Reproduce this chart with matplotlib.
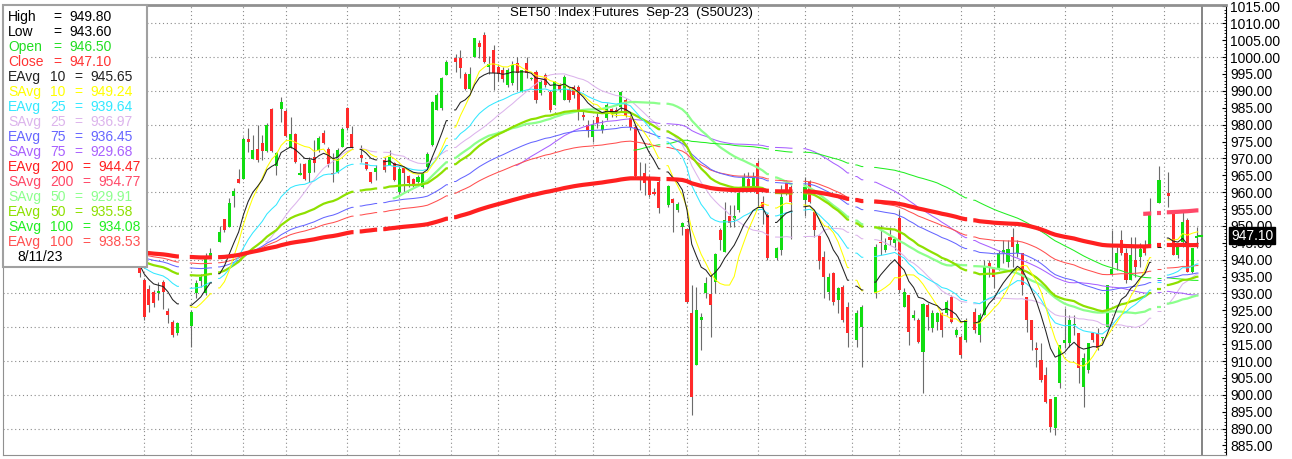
import numpy as np
import pandas as pd
import matplotlib
matplotlib.use("Agg")
import matplotlib.pyplot as plt
from matplotlib.patches import Rectangle
from matplotlib.ticker import MultipleLocator, FormatStrFormatter
import matplotlib.transforms as mtransforms

plt.rcParams['font.family'] = ['Liberation Sans', 'DejaVu Sans']

# daily bars, one slot per trading day; None = exchange holiday (empty slot)
opens = [
    941.0, 934.0, 931.2, 930.5, 930.0, 933.4, 924.9, 921.7, 918.2, None,
    None, 920.5, 930.0, 933.7, 930.0, 941.1, None, 945.3, 952.1, 949.8,
    958.9, 963.9, 963.9, 975.7, 969.8, 972.7, 974.7, 972.3, 984.5, 967.8,
    984.6, 984.1, 973.2, 977.1, 965.1, 968.4, 965.6, 970.5, 972.5, 977.6,
    972.9, 965.6, 966.1, 973.5, 985.0, 977.2, None, 971.0, 969.0, 966.1,
    965.9, None, 969.5, 968.0, 968.5, 960.1, 967.3, 964.9, 963.9, 963.1,
    961.6, 967.5, 974.0, 984.3, 984.8, 994.7, None, 999.6, 999.6, 995.0,
    990.7, 999.9, 1004.1, 1006.5, 997.2, 1002.1, 997.0, 996.2, 991.7, 992.2,
    998.4, 989.8, 998.2, 993.5, 995.7, 989.3, 994.7, 989.8, 985.8, 991.7,
    987.3, 990.3, 991.2, 991.2, 983.0, 979.9, 976.4, 982.4, 978.4, 981.9,
    984.5, 984.3, 985.1, 987.3, 981.9, 979.4, 964.5, 965.6, 964.6, 960.1,
    963.1, None, 956.2, 957.9, 954.7, 949.8, 949.0, 924.1, 908.8, 922.1,
    930.0, 929.8, 933.5, 948.8, 942.4, 952.8, 951.8, 954.7, 961.6, 963.8,
    961.6, 968.5, 957.0, 953.2, None, 940.4, 942.9, 962.6, 961.4, None,
    None, 957.7, 963.1, 954.2, 947.0, 940.9, 930.5, 936.0, 928.0, 932.0,
    926.1, None, 916.2, 920.2, None, None, 930.0, 945.3, 942.9, 946.8,
    944.9, 952.3, 926.1, 929.5, 922.6, 922.1, 912.8, 926.6, 919.7, 921.7,
    924.1, 924.1, 929.1, 917.7, 917.2, 916.2, None, 924.6, 917.7, 923.6,
    939.1, 937.4, 937.4, 941.9, 939.4, 946.6, 941.9, 941.9, 929.1, 922.1,
    913.8, 910.3, 905.9, 898.9, 890.1, 903.4, 915.2, 915.2, 920.6, 918.2,
    902.4, 907.3, 918.2, 918.2, 916.7, 920.2, 935.9, 938.9, 945.8, 941.9,
    934.0, 939.9, 940.9, 944.4, 944.4, None, 956.7, None, 959.7, 954.7,
    941.4, 945.3, 951.8, 936.5, 946.5,
]
highs = [
    943.0, 934.5, 932.5, 931.0, 933.4, 933.9, 925.6, 922.2, 921.5, None,
    None, 925.1, 933.9, 935.9, 941.9, 943.4, None, 950.1, 952.1, 958.2,
    961.1, 966.9, 976.4, 978.9, 976.8, 980.0, 976.8, 980.4, 984.8, 971.9,
    988.1, 984.6, 982.2, 977.4, 968.6, 968.6, 970.5, 975.5, 976.5, 978.4,
    973.5, 971.5, 973.0, 979.4, 985.3, 979.6, None, 974.0, 969.0, 966.1,
    968.1, None, 970.5, 972.5, 969.0, 967.6, 967.6, 965.1, 964.1, 965.1,
    966.1, 972.0, 987.0, 989.3, 994.2, 999.1, None, 1000.8, 1002.1, 995.7,
    997.2, 1005.8, 1005.1, 1007.3, 1000.3, 1003.6, 998.0, 997.0, 996.7, 998.7,
    1000.1, 996.2, 1000.1, 994.0, 996.2, 993.2, 995.2, 990.3, 992.7, 992.2,
    994.7, 991.2, 991.7, 991.7, 984.3, 981.4, 981.4, 983.4, 981.4, 986.3,
    984.8, 985.3, 990.0, 987.8, 982.9, 979.9, 969.0, 968.5, 965.1, 961.1,
    963.6, None, 962.1, 958.2, 957.2, 951.3, 949.3, 932.5, 932.0, 924.1,
    935.0, 935.5, 941.9, 949.3, 957.2, 956.2, 956.2, 960.7, 965.6, 966.0,
    966.0, 969.5, 959.0, 953.7, None, 943.9, 962.1, 963.6, 962.1, None,
    None, 964.6, 963.6, 954.7, 947.3, 942.5, 936.0, 936.5, 932.0, 932.5,
    927.6, None, 925.1, 926.6, None, None, 944.8, 950.2, 946.5, 949.8,
    946.3, 954.7, 931.5, 929.5, 925.1, 922.6, 927.1, 927.1, 925.1, 924.6,
    924.6, 928.1, 929.6, 919.7, 917.7, 922.6, None, 925.6, 924.1, 939.9,
    939.9, 937.9, 942.9, 945.8, 945.8, 949.3, 945.8, 941.9, 929.1, 922.1,
    915.7, 915.2, 908.3, 898.9, 899.4, 914.7, 925.6, 923.6, 923.6, 918.2,
    912.3, 915.2, 918.4, 919.7, 917.2, 932.5, 948.8, 943.9, 948.8, 943.4,
    946.8, 946.8, 944.9, 945.8, 958.2, None, 967.7, None, 966.1, 954.7,
    944.4, 954.7, 952.3, 943.4, 949.8,
]
lows = [
    935.0, 922.2, 924.6, 926.0, 928.0, 925.5, 921.2, 917.2, 917.7, None,
    None, 914.2, 928.6, 932.0, 929.5, 940.8, None, 945.3, 948.1, 949.8,
    955.7, 962.6, 963.9, 972.0, 969.8, 968.8, 969.5, 972.0, 972.0, 965.0,
    980.9, 976.2, 973.2, 968.5, 965.1, 963.6, 963.1, 966.1, 972.0, 974.3,
    967.5, 963.1, 965.6, 973.3, 978.4, 973.0, None, 969.0, 966.6, 962.6,
    963.6, None, 966.1, 968.0, 963.3, 959.6, 960.1, 961.6, 961.6, 962.6,
    961.1, 967.0, 973.8, 984.3, 984.3, 994.7, None, 995.7, 993.7, 990.2,
    990.2, 999.9, 999.6, 998.4, 995.0, 990.3, 993.0, 992.5, 991.2, 991.7,
    990.3, 989.8, 993.7, 993.3, 986.3, 988.8, 991.2, 983.8, 985.8, 989.8,
    987.3, 986.8, 987.8, 981.4, 981.4, 976.4, 974.9, 978.9, 977.4, 981.4,
    982.4, 982.4, 983.8, 982.4, 978.4, 964.6, 960.5, 959.2, 958.7, 959.1,
    953.7, None, 955.7, 948.3, 954.2, 947.3, 927.1, 894.0, 908.8, 913.2,
    928.6, 917.2, 930.0, 942.8, 942.4, 949.8, 949.8, 954.2, 960.6, 961.1,
    960.6, 955.5, 950.5, 939.9, None, 939.9, 941.4, 959.2, 946.0, None,
    None, 952.8, 956.7, 946.8, 937.4, 928.6, 928.1, 926.6, 924.1, 921.6,
    914.3, None, 914.3, 908.3, None, None, 928.6, 941.3, 942.4, 944.4,
    942.9, 930.0, 926.1, 914.7, 922.1, 915.2, 900.4, 919.2, 918.7, 919.2,
    917.2, 923.6, 921.2, 917.2, 910.8, 915.7, None, 918.2, 915.7, 923.6,
    935.0, 931.5, 936.9, 938.9, 937.9, 937.9, 940.9, 929.6, 918.7, 913.3,
    908.3, 903.9, 897.5, 889.0, 888.1, 901.9, 913.8, 914.2, 917.7, 903.4,
    896.5, 906.4, 915.7, 913.3, 915.2, 920.2, 935.4, 937.0, 941.4, 933.0,
    934.0, 935.0, 937.9, 941.4, 944.4, None, 956.7, None, 955.7, 941.4,
    940.4, 943.9, 936.5, 936.0, 943.6,
]
closes = [
    936.0, 923.1, 926.6, 927.1, 930.7, 930.4, 923.6, 917.7, 921.2, None,
    None, 924.6, 933.0, 934.9, 940.8, 942.1, None, 948.1, 948.8, 956.9,
    960.3, 962.6, 975.7, 975.0, 972.5, 969.5, 972.3, 980.0, 972.3, 971.7,
    986.8, 976.5, 977.1, 969.0, 965.8, 963.8, 969.5, 968.5, 976.0, 974.7,
    968.3, 965.4, 972.5, 978.8, 978.9, 973.5, None, 970.0, 966.9, 963.1,
    967.3, None, 966.6, 970.5, 963.6, 966.9, 965.6, 962.6, 962.4, 964.6,
    965.6, 971.2, 986.8, 988.8, 993.7, 998.6, None, 998.6, 996.7, 990.7,
    995.0, 1005.6, 1003.1, 998.6, 997.9, 995.2, 995.0, 993.5, 996.2, 997.7,
    995.2, 996.2, 995.2, 993.7, 987.3, 992.7, 991.7, 984.3, 992.7, 990.3,
    994.2, 987.3, 988.8, 984.3, 982.2, 978.4, 979.9, 980.4, 979.9, 985.8,
    983.5, 983.8, 989.8, 982.6, 979.4, 964.8, 963.5, 962.6, 959.2, 959.6,
    955.2, None, 961.8, 956.7, 956.5, 950.8, 927.6, 899.4, 925.1, 923.1,
    933.0, 926.6, 941.7, 945.8, 951.8, 950.8, 953.0, 959.7, 964.6, 961.6,
    964.6, 959.5, 955.5, 940.4, None, 943.4, 958.7, 959.7, 957.2, None,
    None, 961.6, 957.2, 948.8, 939.5, 935.0, 935.0, 927.6, 931.5, 922.1,
    918.2, None, 924.1, 926.1, None, None, 943.8, 944.9, 944.4, 945.8,
    946.0, 931.0, 930.5, 918.7, 923.6, 915.7, 926.9, 923.1, 924.1, 924.1,
    919.2, 927.6, 921.7, 919.2, 911.8, 922.1, None, 919.2, 923.6, 937.9,
    937.9, 935.0, 941.9, 942.9, 943.1, 943.9, 944.8, 932.5, 922.1, 916.2,
    913.3, 904.4, 898.0, 890.6, 899.4, 914.7, 916.2, 922.1, 921.1, 907.8,
    910.8, 915.2, 916.2, 913.8, 917.2, 932.5, 937.4, 941.9, 941.9, 934.0,
    941.4, 937.9, 943.1, 941.9, 954.2, None, 963.6, None, 958.9, 941.4,
    943.9, 951.3, 936.5, 943.4, 947.1,
]

# EMA values at the first bar (history that is not on the chart)
ema_seed = {10: 938.6, 25: 938.8, 50: 940.0, 75: 941.0, 100: 941.8, 200: 942.3}

# slots of the dotted vertical grid lines (1st / mid of each month)
vgrid_slots = [1, 11, 22, 31, 44, 55, 66, 76, 88, 96, 108, 116, 131, 141,
               151, 161, 174, 181, 196, 206, 217]

# legend panel text
quote_labels = ['High', 'Low', 'Open', 'Close']
quote_values = ['949.80', '943.60', '946.50', '947.10']
ma_kinds = ['EAvg', 'SAvg', 'EAvg', 'SAvg', 'EAvg', 'SAvg', 'EAvg', 'SAvg',
            'SAvg', 'EAvg', 'SAvg', 'EAvg']
ma_periods = [10, 10, 25, 25, 75, 75, 200, 200, 50, 50, 100, 100]
ma_values = ['945.65', '949.24', '939.64', '936.97', '936.45', '929.68',
             '944.47', '954.77', '929.91', '935.58', '934.08', '938.53']
last_date = '8/11/23'
title = 'SET50  Index Futures  Sep-23  (S50U23)'

quote_colors = ['black', 'black', '#22dd22', '#ff3333']
ma_colors = {('EAvg', 10): '#222222', ('SAvg', 10): '#ffff00',
             ('EAvg', 25): '#33e8ff', ('SAvg', 25): '#dcb4ec',
             ('EAvg', 75): '#6666ff', ('SAvg', 75): '#a860ff',
             ('EAvg', 200): '#ff2020', ('SAvg', 200): '#ff4868',
             ('SAvg', 50): '#8cff8c', ('EAvg', 50): '#8ee000',
             ('SAvg', 100): '#22ee22', ('EAvg', 100): '#ff5050'}
ma_widths = {200: 3.0, 50: 1.6}

W, H = 1292, 459
fig = plt.figure(figsize=(W / 100, H / 100), dpi=100)
ax = fig.add_axes([3 / W, 4 / H, 1223 / W, 450 / H])

n = len(closes)
slot = np.arange(n)
valid = np.array([c is not None for c in closes])
sv = slot[valid]
o = np.array([opens[i] for i in sv], float)
h = np.array([highs[i] for i in sv], float)
l = np.array([lows[i] for i in sv], float)
c = np.array([closes[i] for i in sv], float)

# candles
up = c >= o
ax.vlines(sv, l, h, color='#6b6b6b', lw=0.8, zorder=2)
body_lo = np.minimum(o, c)
body_h = np.maximum(np.abs(c - o), 0.3)
ax.bar(sv[up], body_h[up], bottom=body_lo[up], width=0.66,
       color='#11dd11', lw=0, zorder=3)
ax.bar(sv[~up], body_h[~up], bottom=body_lo[~up], width=0.66,
       color='#ff2a2a', lw=0, zorder=3)

# moving averages
cs = pd.Series(c)


def ema(period):
    a = 2 / (period + 1)
    out = [ema_seed[period]]
    for v in c[1:]:
        out.append(out[-1] + a * (v - out[-1]))
    return np.array(out)


def sma(period):
    return cs.rolling(period).mean().to_numpy()


breaks = np.where(np.diff(sv) > 1)[0] + 1
runs = np.split(np.arange(len(sv)), breaks)


def draw_line(vals, **kw):
    for r in runs:
        xs, ys = sv[r], vals[r]
        ok = ~np.isnan(ys)
        xs, ys = xs[ok], ys[ok]
        if len(xs) == 0:
            continue
        xs = np.concatenate([[xs[0] - 0.35], xs, [xs[-1] + 0.35]])
        ys = np.concatenate([[ys[0]], ys, [ys[-1]]])
        ax.plot(xs, ys, solid_capstyle='butt', **kw)


draw_order = [('SAvg', 25), ('SAvg', 75), ('SAvg', 50), ('SAvg', 100),
              ('EAvg', 100), ('EAvg', 75), ('EAvg', 50), ('EAvg', 25),
              ('SAvg', 10), ('EAvg', 10), ('SAvg', 200), ('EAvg', 200)]
for kind, p in draw_order:
    vals = ema(p) if kind == 'EAvg' else sma(p)
    draw_line(vals, color=ma_colors[(kind, p)], lw=ma_widths.get(p, 0.75),
              zorder=4)

# last close tick
ax.plot([n - 0.6, n + 0.1], [closes[-1], closes[-1]], color='#11dd11',
        lw=1.5, zorder=5)

# grid
for gy in range(890, 1011, 10):
    ax.axhline(gy, color='#8a8a8a', lw=0.8, ls=(0, (1, 2.5)), zorder=0.5)
for gx in vgrid_slots:
    ax.axvline(gx, color='#8a8a8a', lw=0.8, ls=(0, (1, 2.5)), zorder=0.5)
ax.axvline((1202 - 139.5) / 4.72, color='#707070', lw=1.2, zorder=1)

ax.set_xlim((3 - 139.5) / 4.72, (1226 - 139.5) / 4.72)
ax.set_ylim(1010 - (455 - 23.33) / 3.377, 1010 + 18.33 / 3.377)
ax.set_xticks([])
ax.yaxis.tick_right()
ax.yaxis.set_major_locator(MultipleLocator(5))
ax.yaxis.set_minor_locator(MultipleLocator(1))
ax.yaxis.set_major_formatter(FormatStrFormatter('%.2f'))
ax.tick_params(axis='y', which='major', direction='in', length=3, pad=3,
               labelsize=10, colors='black')
ax.tick_params(axis='y', which='minor', direction='in', length=1.5)
for side in ['top', 'left', 'bottom']:
    ax.spines[side].set_color('#909090')
ax.spines['top'].set_linewidth(2)
ax.spines['right'].set_color('black')

ax.text(0.5135, 1 - 8 / 450, title, transform=ax.transAxes, ha='center',
        va='center', fontsize=9.5, zorder=6)

trans = mtransforms.blended_transform_factory(ax.transAxes, ax.transData)
ax.text(1.004, closes[-1], '947.10', transform=trans, ha='left',
        va='center', fontsize=10, color='white', clip_on=False, zorder=8,
        bbox=dict(boxstyle='square,pad=0.12', fc='black', ec='black'))


# legend panel
def fx(x):
    return x / W


def fy(y):
    return 1 - y / H


fig.add_artist(Rectangle((fx(3.3), fy(266.7)), 143.4 / W, 261.7 / H,
                         transform=fig.transFigure, fc='white',
                         ec='#a0a0a0', lw=1.5, zorder=10))
row_y = 16.7
for lab, val, col in zip(quote_labels, quote_values, quote_colors):
    fig.text(fx(8), fy(row_y), lab, color=col, fontsize=10, va='center',
             zorder=11)
    fig.text(fx(53), fy(row_y), '=', color=col, fontsize=10, va='center',
             zorder=11)
    fig.text(fx(69), fy(row_y), val, color=col, fontsize=10, va='center',
             zorder=11)
    row_y += 15
for kind, p, val in zip(ma_kinds, ma_periods, ma_values):
    col = ma_colors[(kind, p)]
    wide = p >= 100
    fig.text(fx(8), fy(row_y), kind, color=col, fontsize=10, va='center',
             zorder=11)
    fig.text(fx(50), fy(row_y), str(p), color=col, fontsize=10, va='center',
             zorder=11)
    fig.text(fx(82 if wide else 74), fy(row_y), '=', color=col, fontsize=10,
             va='center', zorder=11)
    fig.text(fx(98 if wide else 90), fy(row_y), val, color=col, fontsize=10,
             va='center', zorder=11)
    row_y += 15
fig.text(fx(17), fy(row_y), last_date, color='black', fontsize=10,
         va='center', zorder=11)

fig.savefig('out.png', dpi=100)
